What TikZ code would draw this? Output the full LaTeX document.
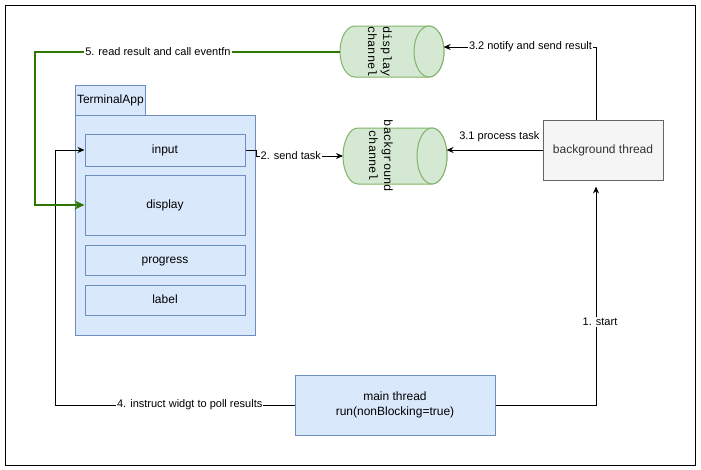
\documentclass[tikz,border=0pt]{standalone}
\usepackage{fontspec}
\setmainfont{Liberation Sans}
\newfontfamily\chanfont{Liberation Mono}
\usetikzlibrary{arrows.meta}
\definecolor{boxblue}{HTML}{DAE8FC}
\definecolor{lineblue}{HTML}{6C8EBF}
\definecolor{boxgreen}{HTML}{D5E8D4}
\definecolor{linegreen}{HTML}{82B366}
\definecolor{boxgray}{HTML}{F5F5F5}
\definecolor{linegray}{HTML}{666666}
\definecolor{textgray}{HTML}{333333}
\definecolor{flowgreen}{HTML}{2D7600}
\begin{document}
\begin{tikzpicture}[x=1pt, y=-1pt, line width=1pt, font=\fontsize{12}{15}\selectfont,
    widget/.style={draw=lineblue, fill=boxblue, minimum width=160pt, text height=8.6pt, text depth=2.5pt},
    chan/.style={draw=linegreen, fill=boxgreen},
    chantext/.style={font=\chanfont\fontsize{12}{15}\selectfont, rotate=-90, align=center},
    flow/.style={-{Stealth[length=7pt,width=6pt]}},
    lbl/.style={fill=white, text=black, inner sep=1pt, font=\fontsize{11}{13}\selectfont}]
  \useasboundingbox (0,0) rectangle (701,469);
  % Draw the frame
  \draw[fill=white] (5,5) rectangle (695.5,465);
  % Draw the terminal app and its widgets
  \node[draw=lineblue, fill=boxblue, minimum width=180pt, minimum height=220pt] (app) at (165,225) {};
  \node[draw=lineblue, fill=boxblue, minimum height=30pt, text width=66pt, inner sep=2pt] (tab) at (110,100) {TerminalApp};
  \node[widget, minimum height=32pt] (input) at (165,150) {input};
  \node[widget, minimum height=60pt] (display) at (165,205) {display};
  \node[widget, minimum height=30pt] (progress) at (165,260) {progress};
  \node[widget, minimum height=30pt] (label) at (165,300) {label};
  % Draw the threads
  \node[draw=linegray, fill=boxgray, text=textgray, minimum width=120pt, minimum height=60pt] (bgthread) at (603,150) {background thread};
  \node[draw=lineblue, fill=boxblue, minimum width=200pt, minimum height=60pt, align=center] (mainthread) at (395,405) {main thread\\run(nonBlocking=true)};
  % Draw the channels
  \draw[chan] (355,26) arc[start angle=90, end angle=270, x radius=15pt, y radius=25.5pt] -- (429,77) arc[start angle=270, end angle=450, x radius=15pt, y radius=25.5pt] -- cycle;
  \draw[chan] (429,51.5) ellipse [x radius=15pt, y radius=25.5pt];
  \node[chantext] (dispch) at (380,51.5) {display\\channel};
  \draw[chan] (358,128) arc[start angle=90, end angle=270, x radius=15pt, y radius=28pt] -- (432,184) arc[start angle=270, end angle=450, x radius=15pt, y radius=28pt] -- cycle;
  \draw[chan] (432,156) ellipse [x radius=15pt, y radius=28pt];
  \node[chantext] (bgch) at (381,156) {background\\channel};
  \coordinate (dispch-w) at (340,52);
  \coordinate (dispch-e) at (443.6,47);
  \coordinate (bgch-w) at (343,156);
  \coordinate (bgch-e) at (446.6,150);
  \coordinate (vline) at (596,405);
  % Draw the flow
  \draw[flow, shorten >=6pt] (mainthread.east) -- (vline) -- (vline |- bgthread.south) node[lbl, pos=0.37, xshift=4pt] {1. start};
  \draw[flow] (input.east) -- (256,150) -- (256,156) -- (bgch-w) node[lbl, pos=0.4] {2. send task};
  \draw[flow] (bgthread.west) -- (bgch-e) node[lbl, above=7pt, pos=0.45] {3.1 process task};
  \draw[flow] (vline |- bgthread.north) -- (596,47) -- (dispch-e) node[lbl, pos=0.43] {3.2 notify and send result};
  \draw[flow] (mainthread.west) -- (55,405) node[lbl, pos=0.4375] {4. instruct widgt to poll results} -- (55,150) -- (input.west);
  \draw[draw=flowgreen, line width=2pt, -{Stealth[length=10pt,width=9pt]}] (dispch-w) -- (35,52) node[lbl, pos=0.597] {5. read result and call eventfn} -- (35,205) -- (display.west);
\end{tikzpicture}
\end{document}
